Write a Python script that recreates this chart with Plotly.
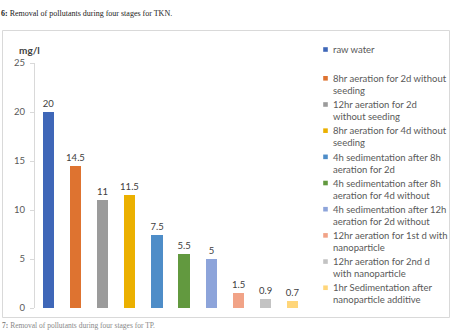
import plotly.graph_objects as go

# ---- data ----
series_names = [
    "raw water",
    "8hr aeration for 2d without<br>seeding",
    "12hr aeration for 2d<br>without seeding",
    "8hr aeration for 4d without<br>seeding",
    "4h sedimentation after 8h<br>aeration for 2d",
    "4h sedimentation after 8h<br>aeration for 4d without",
    "4h sedimentation after 12h<br>aeration for 2d without",
    "12hr aeration for 1st d with<br>nanoparticle",
    "12hr aeration for 2nd d<br>with nanoparticle",
    "1hr Sedimentation after<br>nanoparticle additive",
]
values = [20, 14.5, 11, 11.5, 7.5, 5.5, 5, 1.5, 0.9, 0.7]
value_labels = ["20", "14.5", "11", "11.5", "7.5", "5.5", "5", "1.5", "0.9", "0.7"]
y_ticks = [0, 5, 10, 15, 20, 25]
unit_label = "mg/l"
caption_top = "<b>6:</b> Removal of pollutants during four stages for TKN."
caption_bottom = "<b>7:</b> Removal of pollutants during four stages for TP."

# ---- style ----
colors = ["#3F67B8", "#DE7330", "#9B9B9B", "#EBB000", "#4E8DC8",
          "#62993F", "#8DA4DA", "#F1A387", "#C3C3C3", "#FFD67A"]
FONT = "Lato, Carlito, Calibri, sans-serif"
W, H = 456, 331
L, R, T, B = 35, 150, 63, 23
PW, PH = W - L - R, H - T - B


def px_x(px):
    return (px - L) / PW


def px_y(py):
    return (H - B - py) / PH


fig = go.Figure()
for i, (name, v, lab, c) in enumerate(zip(series_names, values, value_labels, colors)):
    fig.add_trace(go.Bar(
        x=[i], y=[v], width=0.41, marker=dict(color=c, line=dict(width=0)),
        text=[lab], textposition="outside", cliponaxis=False, constraintext="none",
        textfont=dict(family=FONT, size=9.5, color="#404040"),
        name=name.replace("<br>", " "), showlegend=False,
    ))

shapes = []
annotations = []

# frame around the chart
shapes.append(dict(type="rect", xref="paper", yref="paper",
                   x0=px_x(2.5), x1=px_x(449.5), y0=px_y(317.5), y1=px_y(30.5),
                   line=dict(color="#D9D9D9", width=1), fillcolor="rgba(0,0,0,0)",
                   layer="below"))

# custom legend
for i, (name, c) in enumerate(zip(series_names, colors)):
    if i == 0:
        y1 = 49.5
    else:
        y1 = 78.3 + 26.18 * (i - 1)
    shapes.append(dict(type="rect", xref="paper", yref="paper",
                       x0=px_x(323.2), x1=px_x(327.8), y0=px_y(y1 + 2.3), y1=px_y(y1 - 2.3),
                       line=dict(width=0), fillcolor=c))
    nlines = name.count("<br>") + 1
    yc = y1 + (nlines - 1) * 12.35 / 2
    annotations.append(dict(xref="paper", yref="paper", x=px_x(331), y=px_y(yc),
                            xanchor="left", yanchor="middle", text=name, showarrow=False,
                            align="left",
                            font=dict(family=FONT, size=9.5, color="#595959")))

annotations.append(dict(xref="paper", yref="paper", x=px_x(17), y=px_y(50),
                        xanchor="left", yanchor="middle", text="<b>" + unit_label + "</b>",
                        showarrow=False, font=dict(family=FONT, size=10, color="#404040")))
annotations.append(dict(xref="paper", yref="paper", x=px_x(-1), y=px_y(13),
                        xanchor="left", yanchor="middle", text=caption_top, showarrow=False,
                        font=dict(family="Liberation Serif, Times New Roman, serif", size=8,
                                  color="#222222")))
annotations.append(dict(xref="paper", yref="paper", x=px_x(0), y=px_y(325.5),
                        xanchor="left", yanchor="middle", text=caption_bottom, showarrow=False,
                        font=dict(family="Liberation Serif, Times New Roman, serif", size=7.5,
                                  color="#888888")))

fig.update_layout(
    width=W, height=H,
    margin=dict(l=L, r=R, t=T, b=B, autoexpand=False),
    paper_bgcolor="white", plot_bgcolor="white",
    bargap=0,
    showlegend=False,
    shapes=shapes,
    annotations=annotations,
    xaxis=dict(range=[-0.5, len(values) - 0.5], showticklabels=False, showgrid=False,
               zeroline=False, showline=False, ticks=""),
    yaxis=dict(range=[0, 25], tickvals=y_ticks, showgrid=False, zeroline=False,
               showline=True, linecolor="#D9D9D9", linewidth=1,
               ticks="outside", ticklen=4, tickcolor="#D9D9D9", ticklabelstandoff=3,
               tickfont=dict(family=FONT, size=9.5, color="#595959")),
)

fig.write_html("out.html")
